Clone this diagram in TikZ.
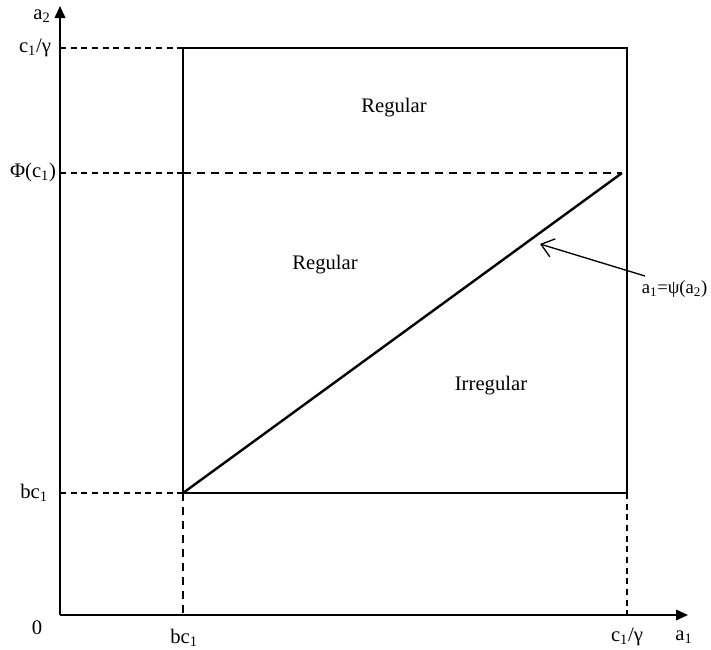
\documentclass[tikz,border=0pt]{standalone}
\usepackage{fontspec}
\setmainfont{Liberation Serif}
\usetikzlibrary{arrows.meta, positioning, calc}
\tikzstyle{axis} = [
  -{Triangle[length=9pt,width=8pt]}, line width=1.2pt
]
\tikzstyle{frame} = [
  line width=1.8pt
]
\tikzstyle{guide} = [
  line width=0.8pt, dash pattern=on 4.5pt off 3.5pt
]
\tikzstyle{thickguide} = [
  line width=1.6pt, dash pattern=on 6pt off 4.5pt
]
\tikzstyle{pointer} = [
  -{Straight Barb[length=9pt,width=14pt]}, line width=1pt
]
\tikzstyle{lbl} = [
  font=\fontsize{15.5}{18}\selectfont, inner sep=1pt
]

\begin{document}
\begin{tikzpicture}[x=0.75pt, y=-0.75pt]
  \useasboundingbox (0,0) rectangle (711,650);

  % ── Corner points ─────────────────────────────────────
  \coordinate (origin) at (60,615);
  \coordinate (ytip)   at (60,6);
  \coordinate (xtip)   at (688,615);
  \coordinate (bl) at (183,493);
  \coordinate (br) at (627,493);
  \coordinate (tr) at (627,48);
  \coordinate (tl) at (183,48);
  \coordinate (phil) at (183,173);
  \coordinate (phiend) at (622,173);
  \coordinate (bcaxis) at (183,615);
  \coordinate (gaxis)  at (627,615);
  \coordinate (curvept) at (540,244);
  \coordinate (ptrstart) at (645,276);

  % ── Axes ──────────────────────────────────────────────
  \draw[axis] (origin) -- (xtip);
  \draw[axis] (origin) -- (ytip);

  % ── Box and boundary ──────────────────────────────────
  \draw[frame] (bl) rectangle (tr);
  \draw[frame] (bl) -- (phiend);
  \draw[thickguide] (phil) -- (phiend);

  % ── Guide lines to the axes ───────────────────────────
  \draw[guide] (origin |- tl) -- (tl);
  \draw[guide] (origin |- phil) -- (phil);
  \draw[guide] (origin |- bl) -- (bl);
  \draw[thickguide] (bl) -- (bcaxis);
  \draw[guide] (br) -- (gaxis);

  % ── Axis labels ───────────────────────────────────────
  \node[lbl] (a2lbl)  at (42,16)  {a\textsubscript{2}};
  \node[lbl] (gylbl)  at (35,48)  {c\textsubscript{1}/γ};
  \node[lbl] (philbl) at (33,173) {Φ(c\textsubscript{1})};
  \node[lbl] (bcylbl) at (34,493) {bc\textsubscript{1}};
  \node[lbl] (zero)   at (37,628) {0};
  \node[lbl] (bcxlbl) at (184,638) {bc\textsubscript{1}};
  \node[lbl] (gxlbl)  at (627,637) {c\textsubscript{1}/γ};
  \node[lbl] (a1lbl)  at (684,637) {a\textsubscript{1}};

  % ── Regions ───────────────────────────────────────────
  \node[lbl] (regtop) at (394,108) {Regular};
  \node[lbl] (regmid) at (325,265) {Regular};
  \node[lbl] (irreg)  at (491,386) {Irregular};

  % ── Curve label ───────────────────────────────────────
  \node[lbl, font=\fontsize{14}{16}\selectfont, anchor=east] (psilbl)
    at (709,289) {a\textsubscript{1}=ψ(a\textsubscript{2})};
  \draw[pointer] (ptrstart) -- (curvept);

\end{tikzpicture}
\end{document}
